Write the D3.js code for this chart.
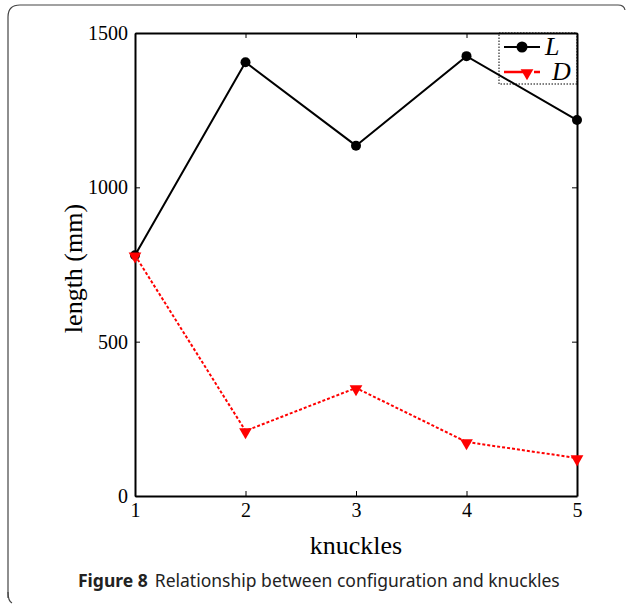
<!DOCTYPE html>
<html>
<head>
<meta charset="utf-8">
<script src="https://cdn.jsdelivr.net/npm/d3@7"></script>
<style>
  body { margin: 0; background: #fff; }
  svg { display: block; }
</style>
</head>
<body>
<svg id="chart"></svg>
<script>
// données du graphique
const knuckles = [1, 2, 3, 4, 5];
const lengthL = [780, 1405, 1135, 1425, 1218];
const lengthD = [780, 211, 350, 175, 123];
const yTicks = [0, 500, 1000, 1500];

const width = 627, height = 605;
const margin = { top: 33, right: 50, bottom: 109, left: 135 };
const innerW = width - margin.left - margin.right;
const innerH = height - margin.top - margin.bottom;

const svg = d3.select("#chart").attr("width", width).attr("height", height);

// cadre arrondi de la figure
svg.append("path")
  .attr("d", "M8,598 L8,17 Q8,5 20,5 L618,5 Q624,5 625,10")
  .attr("fill", "none").attr("stroke", "#444").attr("stroke-width", 1.2);
svg.append("path")
  .attr("d", "M8,592 Q8,601 12,603")
  .attr("fill", "none").attr("stroke", "#444").attr("stroke-width", 1.2);

const g = svg.append("g").attr("transform", `translate(${margin.left},${margin.top})`);

const x = d3.scaleLinear().domain([1, 5]).range([0, innerW]);
const y = d3.scaleLinear().domain([0, 1500]).range([innerH, 0]);

const serif = "'Liberation Serif', 'Times New Roman', serif";

// axes avec graduations vers l'intérieur
const xAxis = g.append("g").attr("transform", `translate(0,${innerH})`)
  .call(d3.axisBottom(x).tickValues(knuckles).tickFormat(d3.format("d")).tickSizeInner(-5).tickSizeOuter(0).tickPadding(7));
const xTop = g.append("g")
  .call(d3.axisTop(x).tickValues(knuckles).tickFormat("").tickSizeInner(-5).tickSizeOuter(0));
const yAxis = g.append("g")
  .call(d3.axisLeft(y).tickValues(yTicks).tickFormat(d3.format("d")).tickSizeInner(-5).tickSizeOuter(0).tickPadding(7));
const yRight = g.append("g").attr("transform", `translate(${innerW},0)`)
  .call(d3.axisRight(y).tickValues(yTicks).tickFormat("").tickSizeInner(-5).tickSizeOuter(0));

[xAxis, xTop, yAxis, yRight].forEach(a => {
  a.attr("font-family", serif).attr("font-size", 20);
  a.select(".domain").attr("stroke", "#000").attr("stroke-width", 2);
  a.selectAll(".tick line").attr("stroke", "#000").attr("stroke-width", 1);
  a.selectAll("text").style("font-family", serif).style("font-size", "20px").attr("fill", "#000");
});

// légende (transparente, la courbe passe au travers)
const leg = g.append("g").attr("transform", `translate(${innerW - 78},0)`);
leg.append("rect").attr("x", 0).attr("y", 0).attr("width", 78).attr("height", 51)
  .attr("fill", "none").attr("stroke", "#000").attr("stroke-width", 1).attr("stroke-dasharray", "1.5,1.5");

// lignes
const line = d3.line().x((d, i) => x(knuckles[i])).y(d => y(d));

g.append("path").datum(lengthD)
  .attr("d", line).attr("fill", "none")
  .attr("stroke", "#ff0000").attr("stroke-width", 2).attr("stroke-dasharray", "3,2");

g.append("path").datum(lengthL)
  .attr("d", line).attr("fill", "none")
  .attr("stroke", "#000").attr("stroke-width", 2);

g.selectAll(".ptL").data(lengthL).join("circle")
  .attr("class", "ptL")
  .attr("cx", (d, i) => x(knuckles[i])).attr("cy", d => y(d))
  .attr("r", 5).attr("fill", "#000");

const tri = d3.symbol().type(d3.symbolTriangle).size(70);
g.selectAll(".ptD").data(lengthD).join("path")
  .attr("class", "ptD")
  .attr("transform", (d, i) => `translate(${x(knuckles[i])},${y(d) + 1}) rotate(180)`)
  .attr("d", tri).attr("fill", "#ff0000");

leg.append("line").attr("x1", 5).attr("x2", 41).attr("y1", 14).attr("y2", 14)
  .attr("stroke", "#000").attr("stroke-width", 2);
leg.append("circle").attr("cx", 23).attr("cy", 14).attr("r", 5.5).attr("fill", "#000");
leg.append("line").attr("x1", 5).attr("x2", 49).attr("y1", 39).attr("y2", 39)
  .attr("stroke", "#ff0000").attr("stroke-width", 2.5).attr("stroke-dasharray", "21,9,6,9");
leg.append("path").attr("transform", "translate(28,40) rotate(180)").attr("d", tri).attr("fill", "#ff0000");
leg.append("text").attr("x", 46).attr("y", 22).text("L")
  .attr("font-family", serif).attr("font-style", "italic").attr("font-size", 26);
leg.append("text").attr("x", 53).attr("y", 47).text("D")
  .attr("font-family", serif).attr("font-style", "italic").attr("font-size", 26);

// titres des axes
svg.append("text").attr("x", margin.left + innerW / 2).attr("y", 554)
  .attr("text-anchor", "middle").attr("font-family", serif).attr("font-size", 26).text("knuckles");
svg.append("text").attr("transform", `translate(82,${margin.top + innerH / 2 + 4}) rotate(-90)`)
  .attr("text-anchor", "middle").attr("font-family", serif).attr("font-size", 26).text("length (mm)");

// légende de la figure
const cap = svg.append("text").attr("x", 78).attr("y", 587)
  .attr("font-family", "'Noto Sans', 'Open Sans', sans-serif").attr("font-size", 17.5).attr("fill", "#222");
cap.append("tspan").attr("font-weight", "bold").text("Figure 8");
cap.append("tspan").attr("dx", 7).text("Relationship between configuration and knuckles");
</script>
</body>
</html>
